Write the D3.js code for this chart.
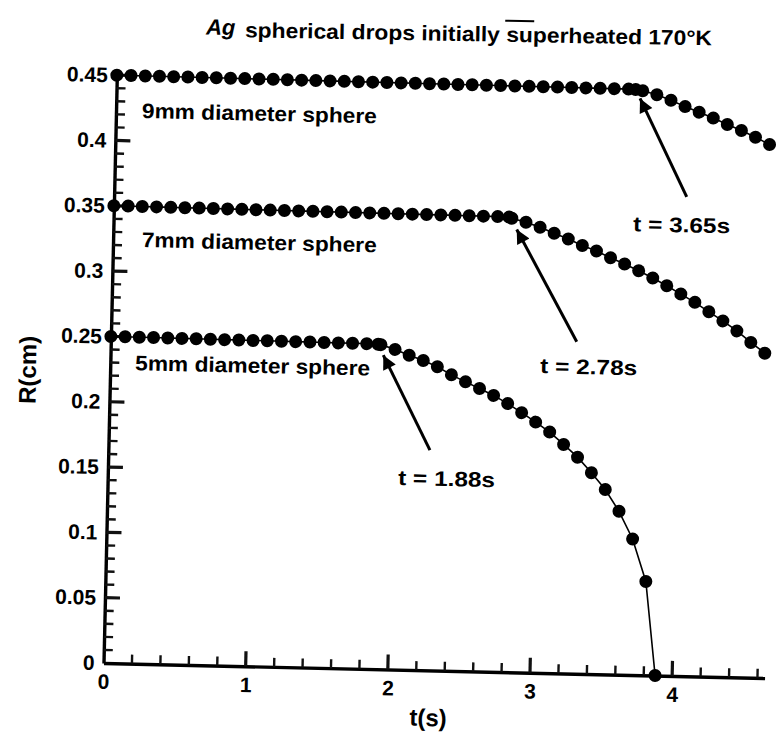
<!DOCTYPE html>
<html>
<head>
<meta charset="utf-8">
<script src="https://cdn.jsdelivr.net/npm/d3@7"></script>
<style>
  body { margin: 0; background: #fff; }
  text { font-family: "Liberation Sans", Arial, sans-serif; font-weight: bold; fill: #000; }
</style>
</head>
<body>
<script>
// --- data ---
// 9mm sphere
var t9 = [0,0.1,0.2,0.3,0.4,0.5,0.6,0.7,0.8,0.9,1.0,1.1,1.2,1.3,1.4,1.5,1.6,1.7,1.8,1.9,
          2.0,2.1,2.2,2.3,2.4,2.5,2.6,2.7,2.8,2.9,3.0,3.1,3.2,3.3,3.4,3.5,3.6,3.65,
          3.7,3.8,3.9,4.0,4.1,4.2,4.3,4.4,4.5,4.6];
var r9 = [0.4500,0.4500,0.4499,0.4499,0.4498,0.4498,0.4497,0.4497,0.4496,0.4496,
          0.4495,0.4495,0.4494,0.4494,0.4493,0.4493,0.4492,0.4492,0.4491,0.4491,
          0.4490,0.4490,0.4489,0.4489,0.4488,0.4488,0.4487,0.4487,0.4486,0.4486,
          0.4485,0.4485,0.4484,0.4484,0.4483,0.4483,0.4482,0.4480,
          0.4472,0.4444,0.4404,0.4358,0.4318,0.4275,0.4228,0.4185,0.4136,0.4082];
// 7mm sphere
var t7 = [0,0.1,0.2,0.3,0.4,0.5,0.6,0.7,0.8,0.9,1.0,1.1,1.2,1.3,1.4,1.5,1.6,1.7,1.8,1.9,
          2.0,2.1,2.2,2.3,2.4,2.5,2.6,2.7,2.78,
          2.8,2.9,3.0,3.1,3.2,3.3,3.4,3.5,3.6,3.7,3.8,3.9,4.0,4.1,4.2,4.3,4.4,4.5,4.6];
var r7 = [0.3500,0.3500,0.3499,0.3499,0.3498,0.3497,0.3497,0.3496,0.3496,0.3495,
          0.3494,0.3494,0.3493,0.3493,0.3492,0.3491,0.3491,0.3490,0.3490,0.3489,
          0.3488,0.3488,0.3487,0.3487,0.3486,0.3485,0.3485,0.3484,0.3482,
          0.3474,0.3446,0.3410,0.3366,0.3325,0.3278,0.3238,0.3188,0.3143,0.3094,
          0.3041,0.2984,0.2923,0.2862,0.2792,0.2725,0.2651,0.2565,0.2485];
// 5mm sphere
var t5 = [0,0.1,0.2,0.3,0.4,0.5,0.6,0.7,0.8,0.9,1.0,1.1,1.2,1.3,1.4,1.5,1.6,1.7,1.8,1.88,
          1.9,2.0,2.1,2.2,2.3,2.4,2.5,2.6,2.7,2.8,2.9,3.0,3.1,3.2,3.3,3.4,3.5,3.6,3.7,3.8,3.88];
var r5 = [0.2500,0.2500,0.2499,0.2499,0.2498,0.2497,0.2497,0.2496,0.2495,0.2495,
          0.2494,0.2494,0.2493,0.2492,0.2492,0.2491,0.2490,0.2490,0.2489,0.2487,
          0.2484,0.2450,0.2408,0.2370,0.2325,0.2265,0.2214,0.2165,0.2115,0.2055,
          0.1988,0.1918,0.1844,0.1752,0.1657,0.1540,0.1414,0.1250,0.1041,0.0718,0];

var xMajor = [0,1,2,3,4];
var xMinor = [0.2,0.4,0.6,0.8,1.2,1.4,1.6,1.8,2.2,2.4,2.6,2.8,3.2,3.4,3.6,3.8,4.2,4.4,4.6];
var yMajor = [0,0.05,0.1,0.15,0.2,0.25,0.3,0.35,0.4,0.45];
var yMinor = [0.01,0.02,0.03,0.04,0.06,0.07,0.08,0.09,0.11,0.12,0.13,0.14,0.16,0.17,0.18,0.19,
              0.21,0.22,0.23,0.24,0.26,0.27,0.28,0.29,0.31,0.32,0.33,0.34,0.36,0.37,0.38,0.39,
              0.41,0.42,0.43,0.44];

var curveLabels = ["9mm diameter sphere", "7mm diameter sphere", "5mm diameter sphere"];
var curveLabelAt = [[0.182, 0.4176], [0.202, 0.3189], [0.175, 0.2246]];
var arrowText = ["t = 3.65s", "t = 2.78s", "t = 1.88s"];
var arrowTip  = [[3.682, 0.4413], [2.836, 0.3389], [1.918, 0.2404]];
var arrowTail = [[4.026, 0.3668], [3.276, 0.2540], [2.261, 0.1686]];
var arrowTextAt = [[3.654, 0.3396], [3.023, 0.2294], [2.042, 0.1413]];

// --- drawing ---
var W = 778, H = 733;
var ox = 103.5, oy = 663;

var svg = d3.select("body").append("svg")
    .attr("width", W)
    .attr("height", H);

var x = d3.scaleLinear().domain([0, 4.65]).range([ox, ox + 4.65 * 142.2]);
var y = d3.scaleLinear().domain([0, 0.45]).range([oy, 75]);

svg.append("defs").append("marker")
    .attr("id", "head")
    .attr("viewBox", "0 0 10 10")
    .attr("refX", 10).attr("refY", 5)
    .attr("markerUnits", "userSpaceOnUse")
    .attr("markerWidth", 23).attr("markerHeight", 14)
    .attr("orient", "auto")
  .append("path")
    .attr("d", "M0,0 L10,5 L0,10 Z")
    .attr("fill", "#000");

// the scanned plot is a little tilted
var g = svg.append("g").attr("transform", "rotate(1.3," + ox + "," + oy + ")");

// axes: labels from d3 axes
g.append("g").attr("class", "xaxis").attr("transform", "translate(0," + oy + ")")
    .call(d3.axisBottom(x).tickValues(xMajor).tickSize(0).tickPadding(11)
        .tickFormat(d3.format("d")));
g.append("g").attr("class", "yaxis").attr("transform", "translate(" + ox + ",0)")
    .call(d3.axisLeft(y).tickValues(yMajor).tickSize(0).tickPadding(9)
        .tickFormat(function (d) { return d === 0 ? "0" : String(+d.toFixed(2)); }));

g.selectAll(".domain").attr("stroke", "#000").attr("stroke-width", 3.4);
g.selectAll(".tick text").attr("font-size", 21).attr("font-family", null);

// inward ticks, drawn after the axes
var tickG = g.append("g").attr("class", "inticks");
tickG.selectAll("line.xmaj").data(xMajor.slice(1)).join("line").attr("class", "xmaj")
    .attr("x1", function (d) { return x(d); }).attr("x2", function (d) { return x(d); })
    .attr("y1", oy).attr("y2", oy - 15);
tickG.selectAll("line.xmin").data(xMinor).join("line").attr("class", "xmin")
    .attr("x1", function (d) { return x(d); }).attr("x2", function (d) { return x(d); })
    .attr("y1", oy).attr("y2", oy - 9);
tickG.selectAll("line.ymaj").data(yMajor.slice(1)).join("line").attr("class", "ymaj")
    .attr("y1", function (d) { return y(d); }).attr("y2", function (d) { return y(d); })
    .attr("x1", ox).attr("x2", ox + 15);
tickG.selectAll("line.ymin").data(yMinor).join("line").attr("class", "ymin")
    .attr("y1", function (d) { return y(d); }).attr("y2", function (d) { return y(d); })
    .attr("x1", ox).attr("x2", ox + 9);
tickG.selectAll("line")
    .attr("stroke", "#111")
    .attr("stroke-width", function () { return this.getAttribute("class").indexOf("maj") > 0 ? 3.2 : 2.4; });

// series
var series = [[t9, r9], [t7, r7], [t5, r5]];
var lineGen = d3.line().x(function (d) { return x(d[0]); }).y(function (d) { return y(d[1]); });

series.forEach(function (s) {
  var pts = d3.zip(s[0], s[1]);
  g.append("path")
      .datum(pts)
      .attr("d", lineGen)
      .attr("fill", "none")
      .attr("stroke", "#000")
      .attr("stroke-width", 1.6);
  g.append("g").selectAll("circle")
      .data(pts)
      .enter()
      .append("circle")
      .attr("cx", function (d) { return x(d[0]); })
      .attr("cy", function (d) { return y(d[1]); })
      .attr("r", 6.5)
      .attr("fill", "#000");
});

// labels for each curve
curveLabels.forEach(function (txt, i) {
  g.append("text")
      .attr("x", x(curveLabelAt[i][0]))
      .attr("y", y(curveLabelAt[i][1]))
      .attr("font-size", 21)
      .attr("textLength", 235)
      .attr("lengthAdjust", "spacingAndGlyphs")
      .text(txt);
});

// arrows pointing at the breakaway times
arrowText.forEach(function (txt, i) {
  g.append("line")
      .attr("x1", x(arrowTail[i][0])).attr("y1", y(arrowTail[i][1]))
      .attr("x2", x(arrowTip[i][0])).attr("y2", y(arrowTip[i][1]))
      .attr("stroke", "#000")
      .attr("stroke-width", 3)
      .attr("marker-end", "url(#head)");
  g.append("text")
      .attr("x", x(arrowTextAt[i][0]))
      .attr("y", y(arrowTextAt[i][1]))
      .attr("font-size", 21)
      .attr("textLength", 97)
      .attr("lengthAdjust", "spacingAndGlyphs")
      .text(txt);
});

// axis titles
svg.append("text")
    .attr("transform", "translate(36,370) rotate(-89)")
    .attr("text-anchor", "middle")
    .attr("font-size", 24)
    .text("R(cm)");

svg.append("text")
    .attr("x", 428).attr("y", 726)
    .attr("text-anchor", "middle")
    .attr("font-size", 24)
    .attr("transform", "rotate(1.3,428,718)")
    .text("t(s)");

// title
var title = svg.append("g").attr("transform", "rotate(1,460,34)");
title.append("text")
    .attr("x", 206).attr("y", 39)
    .attr("font-family", "'Liberation Serif', serif")
    .attr("font-style", "italic")
    .attr("font-size", 22)
    .text("Ag");
title.append("text")
    .attr("x", 245).attr("y", 41)
    .attr("font-size", 21)
    .attr("textLength", 467)
    .attr("lengthAdjust", "spacingAndGlyphs")
    .text("spherical drops initially superheated 170°K");
title.append("line")
    .attr("x1", 505).attr("x2", 534)
    .attr("y1", 20).attr("y2", 20)
    .attr("stroke", "#000").attr("stroke-width", 2);
</script>
</body>
</html>
